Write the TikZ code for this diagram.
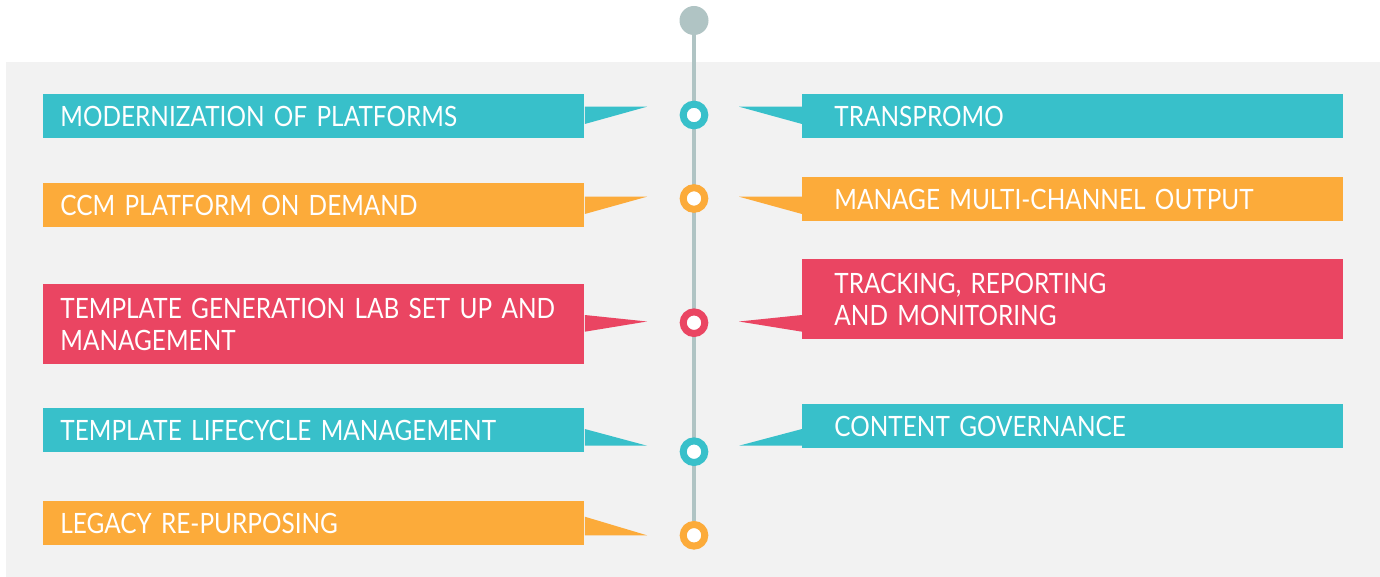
\documentclass[tikz,border=0pt]{standalone}
\usepackage{fontspec}
\setmainfont{Lato}[FakeStretch=0.87]
\usetikzlibrary{calc,backgrounds}
\definecolor{tlteal}{HTML}{38C0CA}
\definecolor{tlorange}{HTML}{FCAB3A}
\definecolor{tlred}{HTML}{EA4562}
\definecolor{tlgrey}{HTML}{B0C4C4}
\definecolor{tlback}{HTML}{F2F2F2}
\tikzset{
  box/.style={anchor=west,text=white,align=left,minimum height=22pt,inner ysep=0pt,
    font=\fontsize{14}{16}\selectfont},
  lbox/.style={box,inner xsep=8.5pt,text width=253.5pt},
  rbox/.style={box,inner xsep=16pt,text width=238.5pt},
  dot/.style={circle,draw=#1,line width=3.5pt,fill=white,minimum size=10.8pt,inner sep=0pt}
}
\begin{document}
\begin{tikzpicture}[x=0.5pt,y=-0.5pt]
\useasboundingbox (0,0) rectangle (1380,577);

% timeline
\node[circle,fill=tlgrey,minimum size=14.5pt,inner sep=0pt] (top) at (694,20.5) {};
\node[dot=tlteal] (c1) at (694,115) {};
\node[dot=tlorange] (c2) at (694,198.5) {};
\node[dot=tlred] (c3) at (694,322.7) {};
\node[dot=tlteal] (c4) at (694,451.7) {};
\node[dot=tlorange] (c5) at (694,535.3) {};

% left side
\node[lbox,fill=tlteal] (l1) at (43,116) {MODERNIZATION OF PLATFORMS};
\node[lbox,fill=tlorange] (l2) at (43,205.5) {CCM PLATFORM ON DEMAND};
\node[lbox,fill=tlred,minimum height=40pt] (l3) at (43,324) {TEMPLATE GENERATION LAB SET UP AND\\MANAGEMENT};
\node[lbox,fill=tlteal] (l4) at (43,430) {TEMPLATE LIFECYCLE MANAGEMENT};
\node[lbox,fill=tlorange] (l5) at (43,523) {LEGACY RE-PURPOSING};

% right side
\node[rbox,fill=tlteal] (r1) at (802,116) {TRANSPROMO};
\node[rbox,fill=tlorange] (r2) at (802,199) {MANAGE MULTI-CHANNEL OUTPUT};
\node[rbox,fill=tlred,minimum height=40pt] (r3) at (802,299) {TRACKING, REPORTING\\AND MONITORING};
\node[rbox,fill=tlteal] (r4) at (802,426) {CONTENT GOVERNANCE};

% tails
\coordinate (t1l) at ($(c1)+(-47,-8.3)$);
\coordinate (t1r) at ($(c1)+(45,-8.3)$);
\coordinate (t2l) at ($(c2)+(-47,-1.8)$);
\coordinate (t2r) at ($(c2)+(45,-1.8)$);
\coordinate (t3l) at ($(c3)+(-47,-1.2)$);
\coordinate (t3r) at ($(c3)+(45,-1.2)$);
\coordinate (t4l) at ($(c4)+(-47,-6)$);
\coordinate (t4r) at ($(c4)+(45,-6)$);
\coordinate (t5l) at ($(c5)+(-47,0)$);
\fill[tlteal] (t1l) -- (t1l -| l1.east) -- ++(0,17.3) -- cycle;
\fill[tlteal] (t1r) -- (t1r -| r1.west) -- ++(0,17.3) -- cycle;
\fill[tlorange] (t2l) -- (t2l -| l2.east) -- ++(0,17.3) -- cycle;
\fill[tlorange] (t2r) -- (t2r -| r2.west) -- ++(0,17.3) -- cycle;
\fill[tlred] (t3l) -- ($(t3l -| l3.east)+(0,-6.5)$) -- ++(0,16.7) -- cycle;
\fill[tlred] (t3r) -- ($(t3r -| r3.west)+(0,-6.5)$) -- ++(0,16.7) -- cycle;
\fill[tlteal] (t4l) -- (t4l -| l4.east) -- ++(0,-16.7) -- cycle;
\fill[tlteal] (t4r) -- (t4r -| r4.west) -- ++(0,-16.7) -- cycle;
\fill[tlorange] (t5l) -- (t5l -| l5.east) -- ++(0,-18.6) -- cycle;

\begin{scope}[on background layer]
\fill[tlback] (6,62) rectangle (1380,577);
\draw[tlgrey,line width=2pt] (top) -- (c5);
\end{scope}
\end{tikzpicture}
\end{document}
